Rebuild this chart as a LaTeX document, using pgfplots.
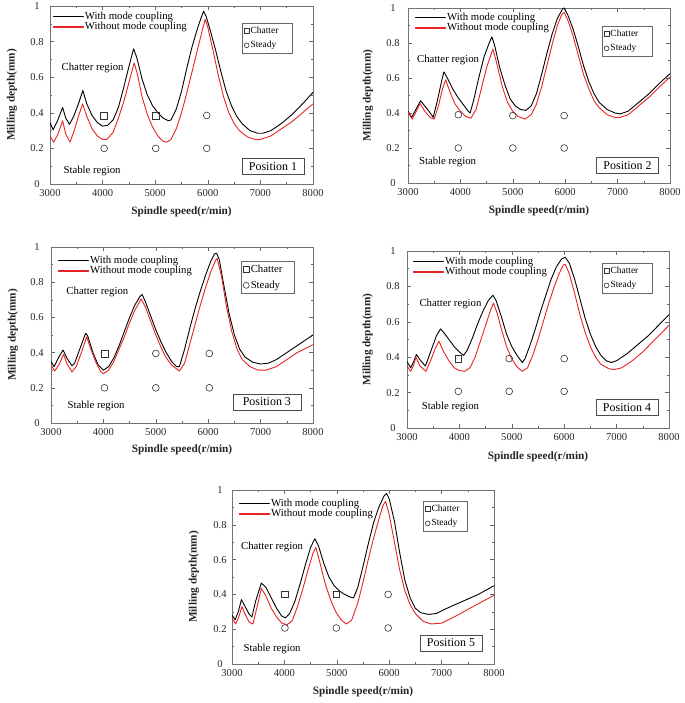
\documentclass[border=0pt]{standalone}
\usepackage{fontspec}
\setmainfont{Liberation Serif}
\usepackage{pgfplots}
\pgfplotsset{compat=1.18}
\definecolor{lred}{RGB}{232,35,35}
\tikzset{
  posbox/.style={draw=black!70, line width=0.6bp, font=\fontsize{12}{13}\selectfont, inner xsep=7bp, inner ysep=4bp},
  reg/.style={font=\fontsize{10.8}{11}\selectfont},
}
\pgfplotsset{
  lobe/.style={
    anchor=south west, scale only axis,
    xmin=3000, xmax=8000, ymin=0, ymax=1,
    xtick={3000,4000,5000,6000,7000,8000},
    xticklabels={3000,4000,5000,6000,7000,8000},
    ytick={0,0.2,0.4,0.6,0.8,1},
    yticklabels={0,0.2,0.4,0.6,0.8,1},
    minor x tick num=1, minor y tick num=1,
    tick align=inside,
    major tick length=4bp, minor tick length=2bp,
    axis line style={black!55, line width=0.6bp},
    every tick/.style={black!60, line width=0.5bp},
    tick label style={font=\fontsize{10.6}{12}\selectfont, text=black!85},
    yticklabel style={anchor=center, xshift=-14bp},
    xticklabel style={yshift=-1.5bp},
    /pgf/number format/assume math mode=true,
    xlabel={Spindle speed(r/min)}, ylabel={Milling depth(mm)},
    label style={font=\bfseries\fontsize{11.3}{12}\selectfont, text=black!85},
    xlabel style={at={(axis description cs:0.5,-0.158)}, anchor=center},
    ylabel style={at={(axis description cs:-0.145,0.5)}, anchor=center},
    legend cell align=left,
    legend style={draw=none, fill=none, anchor=north west,
      font=\fontsize{10.8}{11}\selectfont, inner sep=0pt,
      row sep=-0.7bp, nodes={inner sep=1bp}},
    legend image code/.code={\path (0bp,-0.1bp) rectangle (30bp,0.1bp);
      \draw[##1, line width=0.9bp] (0bp,0bp) -- (25bp,0bp);},
  },
  bl/.style={black, line width=0.9bp, line join=round},
  rd/.style={lred, line width=0.9bp, line join=round},
  sq/.style={only marks, mark=square, mark size=3.4bp, black!80, mark options={line width=0.6bp}, forget plot},
  ci/.style={only marks, mark=o, mark size=3.4bp, black!80, mark options={line width=0.6bp}, forget plot},
  mleg/.style={anchor=south west, scale only axis, hide axis, xmin=0, xmax=1, ymin=0, ymax=1,
    legend cell align=left,
    legend style={anchor=north west, draw=black!60, line width=0.6bp,
      font=\fontsize{9.5}{10}\selectfont, inner xsep=2bp, inner ysep=2bp,
      row sep=3.5bp, nodes={inner sep=1.5bp}}},
  mimg/.style={legend image code/.code={\draw[##1] plot coordinates {(3bp,0bp)};}},
}
\begin{document}
\begin{tikzpicture}
\useasboundingbox (0,0) rectangle (685bp,703bp);
% ---------------- Position 1 ----------------
\begin{axis}[lobe, at={(50bp,519bp)}, width=263bp, height=178bp,
  yticklabel style={xshift=1bp},
  legend style={at={(rel axis cs:0.011,0.972)}}]
\addplot[bl] coordinates {(3000,0.345) (3060,0.305) (3150,0.36) (3240,0.43) (3300,0.37) (3370,0.335) (3450,0.38) (3540,0.45) (3625,0.525) (3700,0.45) (3800,0.385) (3900,0.345) (4000,0.325) (4100,0.33) (4200,0.36) (4300,0.43) (4400,0.54) (4500,0.66) (4590,0.76) (4650,0.71) (4750,0.59) (4850,0.50) (4950,0.44) (5050,0.40) (5150,0.37) (5250,0.355) (5300,0.36) (5400,0.42) (5500,0.52) (5600,0.65) (5700,0.77) (5800,0.87) (5880,0.94) (5920,0.97) (5970,0.94) (6050,0.86) (6150,0.75) (6250,0.63) (6350,0.52) (6450,0.44) (6550,0.38) (6650,0.34) (6800,0.30) (6950,0.285) (7050,0.285) (7200,0.30) (7400,0.34) (7600,0.39) (7800,0.45) (8000,0.515)};
\addlegendentry{With mode coupling}
\addplot[rd] coordinates {(3000,0.27) (3070,0.235) (3150,0.28) (3240,0.355) (3300,0.28) (3380,0.235) (3460,0.30) (3540,0.38) (3620,0.45) (3700,0.38) (3800,0.31) (3900,0.27) (4000,0.25) (4080,0.25) (4200,0.29) (4300,0.37) (4400,0.46) (4500,0.57) (4600,0.68) (4660,0.62) (4750,0.49) (4850,0.39) (4950,0.32) (5050,0.27) (5150,0.24) (5220,0.235) (5300,0.25) (5400,0.31) (5500,0.40) (5600,0.51) (5700,0.63) (5800,0.75) (5900,0.87) (5950,0.925) (6000,0.88) (6100,0.75) (6200,0.61) (6300,0.49) (6400,0.40) (6500,0.34) (6600,0.30) (6750,0.265) (6900,0.25) (7000,0.25) (7200,0.27) (7400,0.31) (7600,0.35) (7800,0.40) (8000,0.45)};
\addlegendentry{Without mode coupling}
\addplot[sq] coordinates {(4030,0.385) (5010,0.385)};
\addplot[ci] coordinates {(5980,0.385) (4030,0.2) (5010,0.2) (5980,0.2)};
\node[reg] at (rel axis cs:0.162,0.652) {Chatter region};
\node[reg] at (rel axis cs:0.16,0.073) {Stable region};
\node[posbox] at (rel axis cs:0.848,0.098) {Position 1};
\end{axis}
\begin{axis}[mleg, at={(50bp,519bp)}, width=263bp, height=178bp,
  legend style={at={(rel axis cs:0.73,0.905)}}]
\addlegendimage{mimg, mark=square, mark size=2.4bp, black!80}
\addlegendentry{\makebox[38bp][l]{Chatter}}
\addlegendimage{mimg, mark=o, mark size=2.4bp, black!80}
\addlegendentry{\makebox[38bp][l]{Steady}}
\end{axis}
% ---------------- Position 2 ----------------
\begin{axis}[lobe, at={(408bp,520bp)}, width=262bp, height=175bp,
  yticklabel style={xshift=-1bp},
  ylabel style={at={(axis description cs:-0.153,0.5)}},
  legend style={at={(rel axis cs:0.027,0.977)}}]
\addplot[bl] coordinates {(3000,0.41) (3070,0.375) (3150,0.42) (3240,0.47) (3320,0.44) (3400,0.41) (3480,0.375) (3560,0.47) (3640,0.58) (3685,0.635) (3750,0.60) (3850,0.54) (3950,0.49) (4050,0.45) (4150,0.41) (4185,0.40) (4250,0.47) (4350,0.60) (4450,0.72) (4550,0.80) (4600,0.835) (4650,0.79) (4750,0.66) (4850,0.56) (4950,0.48) (5050,0.44) (5150,0.42) (5250,0.415) (5350,0.44) (5450,0.51) (5550,0.62) (5650,0.74) (5750,0.85) (5850,0.94) (5950,0.995) (5980,1.0) (6050,0.96) (6150,0.88) (6250,0.78) (6350,0.67) (6450,0.58) (6550,0.51) (6650,0.46) (6800,0.42) (6950,0.40) (7050,0.395) (7200,0.41) (7400,0.46) (7600,0.51) (7800,0.57) (8000,0.625)};
\addlegendentry{With mode coupling}
\addplot[rd] coordinates {(3000,0.405) (3080,0.365) (3160,0.41) (3230,0.455) (3320,0.41) (3420,0.375) (3500,0.365) (3580,0.44) (3660,0.54) (3720,0.59) (3800,0.52) (3900,0.45) (4000,0.41) (4100,0.38) (4200,0.37) (4300,0.42) (4400,0.54) (4500,0.66) (4620,0.765) (4680,0.70) (4800,0.55) (4900,0.46) (5000,0.41) (5100,0.38) (5230,0.365) (5350,0.39) (5450,0.45) (5550,0.55) (5650,0.67) (5750,0.79) (5850,0.90) (5930,0.96) (5980,0.975) (6050,0.93) (6150,0.84) (6250,0.73) (6350,0.62) (6450,0.54) (6550,0.47) (6650,0.43) (6800,0.39) (6950,0.375) (7050,0.375) (7200,0.39) (7400,0.44) (7600,0.49) (7800,0.55) (8000,0.605)};
\addlegendentry{Without mode coupling}
\addplot[ci] coordinates {(3960,0.39) (5000,0.385) (5980,0.385) (3960,0.2) (5000,0.2) (5980,0.2)};
\node[reg] at (rel axis cs:0.153,0.703) {Chatter region};
\node[reg] at (rel axis cs:0.151,0.12) {Stable region};
\node[posbox] at (rel axis cs:0.838,0.10) {Position 2};
\end{axis}
\begin{axis}[mleg, at={(408bp,520bp)}, width=262bp, height=175bp,
  legend style={at={(rel axis cs:0.74,0.897)}}]
\addlegendimage{mimg, mark=square, mark size=2.4bp, black!80}
\addlegendentry{\makebox[38bp][l]{Chatter}}
\addlegendimage{mimg, mark=o, mark size=2.4bp, black!80}
\addlegendentry{\makebox[38bp][l]{Steady}}
\end{axis}
% ---------------- Position 3 ----------------
\begin{axis}[lobe, at={(51bp,280bp)}, width=262bp, height=176bp,
  xlabel style={at={(axis description cs:0.5,-0.153)}},
  legend style={at={(rel axis cs:0.027,0.955)}}]
\addplot[bl] coordinates {(3000,0.35) (3060,0.32) (3140,0.37) (3230,0.415) (3300,0.37) (3400,0.325) (3450,0.34) (3550,0.42) (3660,0.51) (3700,0.495) (3800,0.40) (3900,0.33) (4000,0.30) (4100,0.32) (4200,0.37) (4300,0.44) (4400,0.52) (4500,0.60) (4600,0.67) (4700,0.72) (4740,0.73) (4800,0.69) (4900,0.61) (5000,0.53) (5100,0.46) (5200,0.40) (5300,0.35) (5400,0.32) (5450,0.32) (5550,0.42) (5650,0.54) (5750,0.65) (5850,0.75) (5950,0.84) (6050,0.92) (6120,0.96) (6160,0.965) (6210,0.93) (6300,0.78) (6400,0.62) (6500,0.50) (6600,0.42) (6700,0.375) (6850,0.345) (7000,0.335) (7150,0.34) (7300,0.36) (7500,0.40) (7700,0.44) (8000,0.50)};
\addlegendentry{With mode coupling}
\addplot[rd] coordinates {(3000,0.33) (3070,0.295) (3150,0.33) (3240,0.39) (3300,0.34) (3400,0.29) (3480,0.32) (3580,0.40) (3680,0.49) (3760,0.42) (3850,0.35) (3950,0.29) (4000,0.28) (4100,0.30) (4200,0.35) (4300,0.42) (4400,0.49) (4500,0.57) (4600,0.64) (4720,0.705) (4800,0.66) (4900,0.58) (5000,0.50) (5100,0.43) (5200,0.37) (5300,0.33) (5450,0.295) (5550,0.34) (5650,0.45) (5750,0.56) (5850,0.67) (5950,0.77) (6050,0.86) (6150,0.93) (6170,0.935) (6250,0.84) (6350,0.66) (6450,0.52) (6550,0.42) (6650,0.36) (6800,0.32) (6950,0.30) (7100,0.30) (7300,0.32) (7500,0.36) (7700,0.40) (8000,0.445)};
\addlegendentry{Without mode coupling}
\addplot[sq] coordinates {(4020,0.395)};
\addplot[ci] coordinates {(5000,0.395) (6020,0.395) (4020,0.2) (5000,0.2) (6020,0.2)};
\node[reg] at (rel axis cs:0.177,0.744) {Chatter region};
\node[reg] at (rel axis cs:0.172,0.097) {Stable region};
\node[posbox, inner xsep=10bp] at (rel axis cs:0.824,0.119) {Position 3};
\end{axis}
\begin{axis}[mleg, at={(51bp,280bp)}, width=262bp, height=176bp,
  legend style={at={(rel axis cs:0.725,0.92)}, font=\fontsize{10.8}{11}\selectfont, row sep=4bp}]
\addlegendimage{mimg, mark=square, mark size=3bp, black!80}
\addlegendentry{\makebox[40bp][l]{Chatter}}
\addlegendimage{mimg, mark=o, mark size=3bp, black!80}
\addlegendentry{\makebox[40bp][l]{Steady}}
\end{axis}
% ---------------- Position 4 ----------------
\begin{axis}[lobe, at={(407bp,275bp)}, width=262bp, height=177bp,
  ylabel style={at={(axis description cs:-0.15,0.5)}},
  xlabel style={at={(axis description cs:0.5,-0.162)}},
  legend style={at={(rel axis cs:0.023,0.972)}}]
\addplot[bl] coordinates {(3000,0.375) (3070,0.34) (3120,0.37) (3180,0.415) (3250,0.385) (3350,0.35) (3450,0.43) (3560,0.52) (3640,0.56) (3700,0.54) (3800,0.50) (3900,0.46) (4000,0.43) (4080,0.41) (4150,0.44) (4250,0.51) (4350,0.59) (4450,0.66) (4550,0.72) (4640,0.75) (4700,0.72) (4800,0.63) (4900,0.53) (5000,0.46) (5100,0.41) (5200,0.37) (5250,0.39) (5350,0.47) (5450,0.56) (5550,0.66) (5650,0.75) (5750,0.84) (5850,0.91) (5950,0.955) (6020,0.965) (6100,0.93) (6200,0.84) (6300,0.73) (6400,0.62) (6500,0.53) (6600,0.46) (6700,0.41) (6800,0.38) (6900,0.37) (7000,0.38) (7200,0.42) (7400,0.47) (7600,0.52) (7800,0.58) (8000,0.64)};
\addlegendentry{With mode coupling}
\addplot[rd] coordinates {(3000,0.35) (3070,0.32) (3120,0.35) (3170,0.40) (3250,0.35) (3360,0.32) (3450,0.38) (3540,0.45) (3610,0.49) (3700,0.43) (3800,0.38) (3900,0.34) (4000,0.325) (4100,0.32) (4200,0.34) (4300,0.40) (4400,0.49) (4500,0.58) (4600,0.67) (4650,0.705) (4720,0.65) (4800,0.56) (4900,0.46) (5000,0.39) (5100,0.345) (5200,0.32) (5300,0.34) (5400,0.41) (5500,0.50) (5600,0.60) (5700,0.70) (5800,0.79) (5900,0.87) (5980,0.92) (6020,0.925) (6100,0.87) (6200,0.76) (6300,0.64) (6400,0.54) (6500,0.46) (6600,0.40) (6700,0.36) (6850,0.335) (6950,0.33) (7100,0.34) (7300,0.38) (7500,0.43) (7700,0.49) (8000,0.58)};
\addlegendentry{Without mode coupling}
\addplot[sq] coordinates {(3980,0.392)};
\addplot[ci] coordinates {(4950,0.392) (6000,0.392) (3980,0.207) (4950,0.207) (6000,0.207)};
\node[reg] at (rel axis cs:0.166,0.70) {Chatter region};
\node[reg] at (rel axis cs:0.166,0.119) {Stable region};
\node[posbox] at (rel axis cs:0.84,0.116) {Position 4};
\end{axis}
\begin{axis}[mleg, at={(407bp,275bp)}, width=262bp, height=177bp,
  legend style={at={(rel axis cs:0.744,0.932)}}]
\addlegendimage{mimg, mark=square, mark size=2.4bp, black!80}
\addlegendentry{\makebox[38bp][l]{Chatter}}
\addlegendimage{mimg, mark=o, mark size=2.4bp, black!80}
\addlegendentry{\makebox[38bp][l]{Steady}}
\end{axis}
% ---------------- Position 5 ----------------
\begin{axis}[lobe, at={(232bp,39bp)}, width=262bp, height=174bp,
  yticklabel style={xshift=2bp},
  xlabel style={at={(axis description cs:0.5,-0.161)}},
  legend style={at={(rel axis cs:0.027,0.954)}}]
\addplot[bl] coordinates {(3000,0.28) (3060,0.255) (3120,0.30) (3180,0.37) (3250,0.33) (3330,0.285) (3380,0.27) (3450,0.36) (3560,0.465) (3650,0.44) (3750,0.38) (3850,0.32) (3950,0.275) (4020,0.265) (4100,0.29) (4200,0.36) (4300,0.46) (4400,0.57) (4500,0.67) (4580,0.72) (4650,0.68) (4750,0.58) (4850,0.50) (4950,0.45) (5050,0.42) (5150,0.40) (5250,0.385) (5320,0.38) (5400,0.44) (5500,0.56) (5600,0.69) (5700,0.81) (5800,0.90) (5900,0.965) (5950,0.98) (6000,0.95) (6100,0.82) (6200,0.64) (6300,0.48) (6400,0.38) (6500,0.32) (6600,0.295) (6750,0.285) (6900,0.29) (7100,0.32) (7400,0.36) (7700,0.40) (8000,0.45)};
\addlegendentry{With mode coupling}
\addplot[rd] coordinates {(3000,0.265) (3070,0.23) (3130,0.27) (3190,0.33) (3260,0.28) (3330,0.24) (3400,0.23) (3480,0.33) (3560,0.435) (3650,0.39) (3750,0.32) (3850,0.27) (3950,0.235) (4050,0.225) (4150,0.25) (4250,0.33) (4350,0.43) (4450,0.54) (4550,0.64) (4600,0.67) (4680,0.58) (4780,0.46) (4880,0.37) (4980,0.30) (5080,0.255) (5180,0.23) (5280,0.25) (5400,0.35) (5500,0.47) (5600,0.60) (5700,0.72) (5800,0.83) (5880,0.91) (5930,0.935) (6000,0.86) (6100,0.70) (6200,0.54) (6300,0.42) (6400,0.34) (6500,0.29) (6650,0.245) (6800,0.23) (7000,0.235) (7300,0.28) (7600,0.33) (8000,0.395)};
\addlegendentry{Without mode coupling}
\addplot[sq] coordinates {(4010,0.40) (4990,0.40)};
\addplot[ci] coordinates {(5980,0.40) (4010,0.207) (4990,0.207) (5980,0.207)};
\node[reg] at (rel axis cs:0.153,0.672) {Chatter region};
\node[reg] at (rel axis cs:0.153,0.086) {Stable region};
\node[posbox] at (rel axis cs:0.836,0.121) {Position 5};
\end{axis}
\begin{axis}[mleg, at={(232bp,39bp)}, width=262bp, height=174bp,
  legend style={at={(rel axis cs:0.729,0.937)}}]
\addlegendimage{mimg, mark=square, mark size=2.4bp, black!80}
\addlegendentry{\makebox[32bp][l]{Chatter}}
\addlegendimage{mimg, mark=o, mark size=2.4bp, black!80}
\addlegendentry{\makebox[32bp][l]{Steady}}
\end{axis}
\end{tikzpicture}
\end{document}
